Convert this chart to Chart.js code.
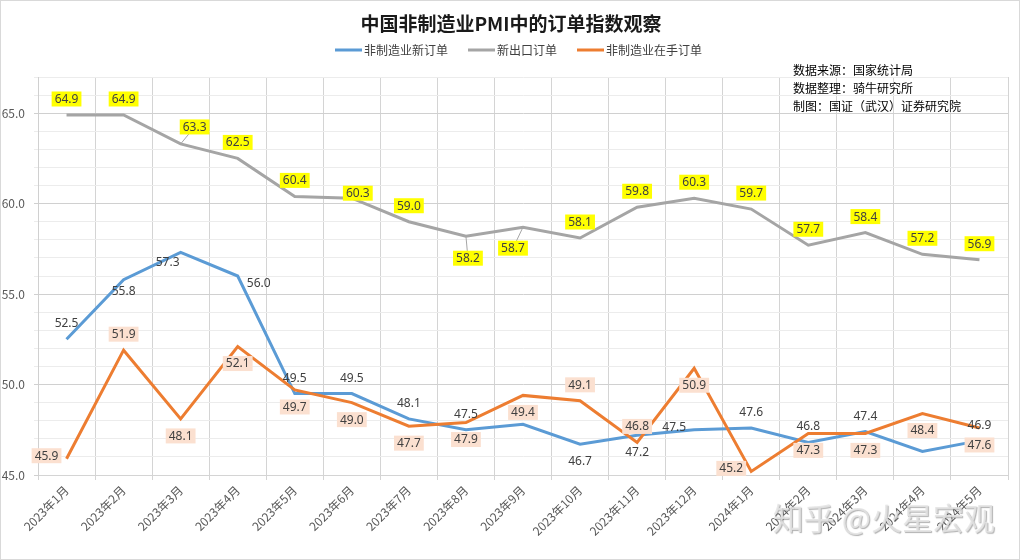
<!DOCTYPE html>
<html>
<head>
<meta charset="utf-8">
<script src="https://cdn.jsdelivr.net/npm/chart.js@4.4.0/dist/chart.umd.min.js"></script>
<style>
  body { margin: 0; background: #fff; }
  .pmi_wrap { width: 1020px; height: 560px; }
</style>
</head>
<body>
<div class="pmi_wrap"><canvas id="pmi_chart" width="1020" height="560"></canvas></div>
<script>
// 数据
const months = ["2023年1月", "2023年2月", "2023年3月", "2023年4月", "2023年5月", "2023年6月",
  "2023年7月", "2023年8月", "2023年9月", "2023年10月", "2023年11月", "2023年12月",
  "2024年1月", "2024年2月", "2024年3月", "2024年4月", "2024年5月"];
const newOrders = [52.5, 55.8, 57.3, 56.0, 49.5, 49.5, 48.1, 47.5, 47.8, 46.7, 47.2, 47.5, 47.6, 46.8, 47.4, 46.3, 46.9];
const exportOrders = [64.9, 64.9, 63.3, 62.5, 60.4, 60.3, 59.0, 58.2, 58.7, 58.1, 59.8, 60.3, 59.7, 57.7, 58.4, 57.2, 56.9];
const backlogOrders = [45.9, 51.9, 48.1, 52.1, 49.7, 49.0, 47.7, 47.9, 49.4, 49.1, 46.8, 50.9, 45.2, 47.3, 47.3, 48.4, 47.6];
const yTicks = [45, 50, 55, 60, 65];
const seriesNames = ["非制造业新订单", "新出口订单", "非制造业在手订单"];
const sourceLines = ["数据来源：国家统计局", "数据整理：骑牛研究所", "制图：国证（武汉）证券研究院"];

// label placement per point (null = no label)
const newOrdersPos = ["a", "sb", "sl", "r", "a", "a", "a", "a", null, "b", "b", "l", "a", "a", "a", null, "a"];
const exportPos = ["a", "a", "ar", "a", "a", "n", "a", "bb", "bl", "a", "a", "a", "a", "a", "a", "a", "a"];
const backlogPos = ["l", "a", "b", "b", "b", "b", "b", "b", "b", "a", "a", "b", "l", "b", "b", "b", "b"];

const offsets = {
  a: [0, -16], b: [0, 17], l: [-20, -3], r: [21, 7], n: [6, -5],
  ar: [14, -17], bb: [2, 22], bl: [-10, 21], sb: [0, 11], sl: [-13, 10]
};
const leaderCodes = ["ar", "bb", "bl"];

const FONT = '"Noto Sans CJK SC", "Noto Sans", sans-serif';
Chart.defaults.font.family = FONT;

const pointLabels = {
  id: "pointLabels",
  afterDatasetsDraw(chart) {
    const ctx = chart.ctx;
    ctx.save();
    ctx.font = '12px "Noto Sans", sans-serif';
    ctx.textAlign = "center";
    ctx.textBaseline = "middle";
    chart.data.datasets.forEach((ds, i) => {
      const meta = chart.getDatasetMeta(i);
      meta.data.forEach((pt, j) => {
        const code = ds.labelPos[j];
        if (!code) return;
        const cx = pt.x + offsets[code][0];
        const cy = pt.y + offsets[code][1];
        const text = ds.data[j].toFixed(1);
        const w = ctx.measureText(text).width + 6;
        const h = 15;
        if (leaderCodes.includes(code)) {
          ctx.strokeStyle = "#a6a6a6";
          ctx.lineWidth = 1;
          ctx.beginPath();
          ctx.moveTo(pt.x, pt.y);
          ctx.lineTo(cx, cy);
          ctx.stroke();
        }
        if (ds.labelBg) {
          ctx.fillStyle = ds.labelBg;
          ctx.fillRect(cx - w / 2, cy - h / 2, w, h);
        }
        ctx.fillStyle = "#404040";
        ctx.fillText(text, cx, cy + 0.5);
      });
    });
    ctx.restore();
  }
};

const decorations = {
  id: "decorations",
  beforeDraw(chart) {
    const ctx = chart.ctx;
    ctx.save();
    ctx.fillStyle = "#fff";
    ctx.fillRect(0, 0, chart.width, chart.height);
    ctx.restore();
  },
  afterDraw(chart) {
    const ctx = chart.ctx;
    ctx.save();
    // title
    ctx.fillStyle = "#1a1a1a";
    ctx.font = "bold 19px " + FONT;
    ctx.textAlign = "center";
    ctx.textBaseline = "middle";
    ctx.fillText("中国非制造业PMI中的订单指数观察", 511, 24);

    // legend
    ctx.font = "12px " + FONT;
    ctx.textAlign = "left";
    const colors = chart.data.datasets.map(d => d.borderColor);
    let x = 335;
    seriesNames.forEach((name, i) => {
      ctx.strokeStyle = colors[i];
      ctx.lineWidth = 3;
      ctx.beginPath();
      ctx.moveTo(x, 50);
      ctx.lineTo(x + 27, 50);
      ctx.stroke();
      ctx.fillStyle = "#404040";
      ctx.fillText(name, x + 29, 50);
      x += 29 + ctx.measureText(name).width + 20;
    });

    // source notes
    ctx.fillStyle = "#000";
    ctx.font = "12px " + FONT;
    sourceLines.forEach((s, i) => ctx.fillText(s, 793, 70 + i * 18));

    // watermark
    ctx.font = "31px " + FONT;
    ctx.textAlign = "right";
    ctx.shadowColor = "rgba(90,90,90,0.55)";
    ctx.shadowOffsetX = 1;
    ctx.shadowOffsetY = 1;
    ctx.shadowBlur = 1;
    ctx.fillStyle = "rgba(228,228,228,0.85)";
    ctx.fillText("知乎 @火星宏观", 995, 518);
    ctx.shadowColor = "transparent";

    // outer frame
    ctx.strokeStyle = "#d9d9d9";
    ctx.lineWidth = 1;
    ctx.strokeRect(0.5, 0.5, chart.width - 1, chart.height - 1);
    ctx.restore();
  }
};

new Chart(document.getElementById("pmi_chart"), {
  type: "line",
  data: {
    labels: months,
    datasets: [
      {
        label: seriesNames[0],
        data: newOrders,
        borderColor: "#5b9bd5",
        labelPos: newOrdersPos,
        labelBg: null,
        order: 2
      },
      {
        label: seriesNames[1],
        data: exportOrders,
        borderColor: "#a5a5a5",
        labelPos: exportPos,
        labelBg: "#ffff00",
        order: 1
      },
      {
        label: seriesNames[2],
        data: backlogOrders,
        borderColor: "#ed7d31",
        labelPos: backlogPos,
        labelBg: "#fbe0d0",
        order: 0
      }
    ]
  },
  options: {
    responsive: false,
    animation: false,
    elements: {
      line: { borderWidth: 3, tension: 0, fill: false },
      point: { radius: 0, hoverRadius: 0 }
    },
    layout: { padding: { top: 77, right: 12, left: 0, bottom: 0 } },
    plugins: {
      legend: { display: false },
      tooltip: { enabled: false }
    },
    scales: {
      x: {
        offset: true,
        afterFit(scale) { scale.height = 85; },
        grid: { offset: true, color: "#d4d4d4", tickLength: 5 },
        border: { color: "#d4d4d4" },
        ticks: {
          autoSkip: false,
          minRotation: 45,
          maxRotation: 45,
          padding: 3,
          color: "#595959",
          font: { size: 12 }
        }
      },
      y: {
        min: 45,
        max: 67,
        afterFit(scale) { scale.width = 38; },
        grid: {
          tickLength: 4,
          color: (c) => (c.tick && yTicks.includes(c.tick.value) ? "#d0d0d0" : "#ececec")
        },
        border: { color: "#d0d0d0" },
        ticks: {
          stepSize: 1,
          padding: 9,
          color: "#595959",
          font: { size: 12 },
          callback: (v) => (yTicks.includes(v) ? v.toFixed(1) : "")
        }
      }
    }
  },
  plugins: [decorations, pointLabels]
});
</script>
</body>
</html>
